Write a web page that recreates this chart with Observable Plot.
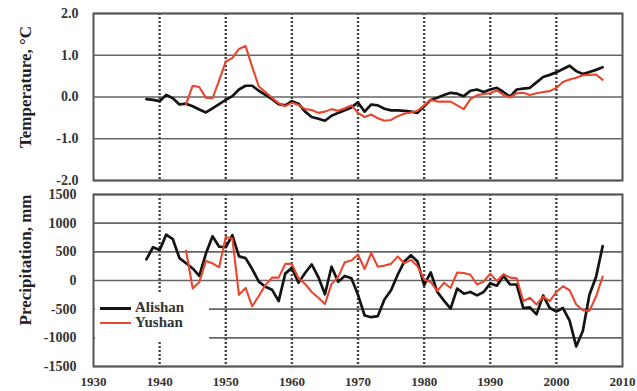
<!DOCTYPE html>
<html><head><meta charset="utf-8">
<script src="https://cdn.jsdelivr.net/npm/d3@7"></script>
<script src="https://cdn.jsdelivr.net/npm/@observablehq/plot@0.6"></script>
<style>
body{margin:0;background:#fff;}
#wrap{position:relative;width:637px;height:391px;font-family:"Liberation Serif","Times New Roman",serif;overflow:hidden;}
#top,#bot{position:absolute;left:0;}
#top{top:0}
#bot{top:186px}
.ytitle{position:absolute;font-weight:bold;font-size:17px;transform:translate(-50%,-50%) rotate(-90deg);white-space:nowrap;color:#222;line-height:1}
#legend{position:absolute;left:95px;top:293px;width:114px;height:47px;background:#fff;}
.lg{position:absolute;font-weight:bold;font-size:15px;color:#333;line-height:1;white-space:nowrap}
.sw{position:absolute;}
</style>
</head><body>
<div id="wrap">
  <div id="top"></div>
  <div id="bot"></div>
  <div class="ytitle" style="left:25px;top:87px">Temperature, °C</div>
  <div class="ytitle" style="left:25px;top:260px">Precipitation, mm</div>
  <div id="legend"></div>
</div>
<script>
const seriesNames = ["Alishan", "Yushan"];
const seriesColors = ["#141414", "#e8462d"];
const tempTicks = [-2, -1, 0, 1, 2];
const precipTicks = [-1500, -1000, -500, 0, 500, 1000, 1500];
const xTicks = [1930, 1940, 1950, 1960, 1970, 1980, 1990, 2000, 2010];
const decadeLines = [1940, 1950, 1960, 1970, 1980, 1990, 2000];

const alishanYears = d3.range(1938, 2008);
const yushanYears = d3.range(1944, 2008);

const alishanTemp = [
 -0.05,-0.07,-0.10,0.05,-0.03,-0.18,-0.16,-0.22,-0.30,-0.37,
 -0.27,-0.17,-0.07,0.02,0.18,0.27,0.27,0.15,0.05,-0.05,
 -0.17,-0.20,-0.10,-0.16,-0.35,-0.48,-0.52,-0.57,-0.45,-0.38,
 -0.32,-0.25,-0.13,-0.35,-0.18,-0.20,-0.28,-0.32,-0.32,-0.33,
 -0.35,-0.38,-0.22,-0.07,-0.02,0.05,0.10,0.08,0.02,0.15,
 0.18,0.12,0.18,0.22,0.12,0.01,0.18,0.20,0.22,0.35,
 0.48,0.53,0.59,0.67,0.75,0.62,0.55,0.60,0.65,0.71
];
const yushanTemp = [
 -0.17,0.27,0.24,-0.02,-0.03,0.40,0.85,0.93,1.15,1.22,
 0.72,0.25,0.12,-0.02,-0.15,-0.22,-0.14,-0.19,-0.29,-0.31,
 -0.38,-0.35,-0.29,-0.33,-0.27,-0.20,-0.38,-0.48,-0.42,-0.51,
 -0.57,-0.55,-0.46,-0.40,-0.37,-0.33,-0.20,-0.07,-0.11,-0.11,
 -0.11,-0.20,-0.29,-0.05,0.04,0.07,0.09,0.16,0.05,-0.01,
 0.09,0.10,0.05,0.09,0.12,0.14,0.22,0.36,0.42,0.46,
 0.52,0.53,0.54,0.41
];
const alishanPrecip = [
 370,580,530,800,720,390,300,210,80,470,
 770,590,580,790,420,390,200,-20,-110,-160,
 -360,120,220,-40,130,280,60,-240,240,-20,
 80,40,-250,-610,-640,-620,-330,-170,100,330,
 440,330,-80,140,-200,-350,-490,-140,-230,-200,
 -260,-200,-50,-90,80,-70,-70,-480,-470,-590,
 -260,-480,-540,-480,-700,-1150,-880,-250,60,600
];
const yushanPrecip = [
 520,-140,-30,340,300,230,760,730,-250,-130,
 -450,-270,-80,50,50,290,290,40,-60,-200,
 -300,-410,-60,60,320,350,450,200,480,240,
 260,290,420,300,360,250,20,-30,-180,-40,
 -130,140,130,100,-70,-20,120,-10,110,50,
 40,-360,-300,-420,-280,-360,-200,-100,-170,-420,
 -520,-530,-280,70
];

const rows = (years, vals, name) => years.map((y, i) => ({year: y, value: vals[i], series: name}));
const tA = rows(alishanYears, alishanTemp, seriesNames[0]);
const tY = rows(yushanYears, yushanTemp, seriesNames[1]);
const pA = rows(alishanYears, alishanPrecip, seriesNames[0]);
const pY = rows(yushanYears, yushanPrecip, seriesNames[1]);

const font = '"Liberation Serif","Times New Roman",serif';
const grid = "#666";
const dots = {stroke: "#444", strokeWidth: 2.4, strokeDasharray: "2,2"};

const topPlot = Plot.plot({
  width: 637, height: 186,
  marginLeft: 93, marginRight: 15, marginTop: 13, marginBottom: 6,
  style: {fontFamily: font, background: "transparent", overflow: "visible"},
  x: {domain: [1930, 2010], axis: null},
  y: {domain: [-2, 2]},
  marks: [
    Plot.ruleY(tempTicks, {y: d => d, stroke: grid, strokeWidth: 1.6}),
    Plot.ruleX(decadeLines, {x: d => d, ...dots}),
    Plot.line(tA, {x: "year", y: "value", stroke: seriesColors[0], strokeWidth: 2.7}),
    Plot.line(tY, {x: "year", y: "value", stroke: seriesColors[1], strokeWidth: 2.1}),
    Plot.frame({stroke: "#555", strokeWidth: 2}),
    Plot.axisY({ticks: tempTicks, tickFormat: d => d.toFixed(1), tickSize: 0, tickPadding: 15, label: null, fontSize: 14, fontWeight: "bold", fill: "#333"})
  ]
});
document.getElementById("top").appendChild(topPlot);

const botPlot = Plot.plot({
  width: 637, height: 205,
  marginLeft: 93, marginRight: 15, marginTop: 8, marginBottom: 25,
  style: {fontFamily: font, background: "transparent", overflow: "visible"},
  x: {domain: [1930, 2010]},
  y: {domain: [-1500, 1500]},
  marks: [
    Plot.ruleY(precipTicks, {y: d => d, stroke: grid, strokeWidth: 1.6}),
    Plot.ruleX(decadeLines, {x: d => d, ...dots}),
    Plot.line(pA, {x: "year", y: "value", stroke: seriesColors[0], strokeWidth: 2.7}),
    Plot.line(pY, {x: "year", y: "value", stroke: seriesColors[1], strokeWidth: 2.1}),
    Plot.frame({stroke: "#555", strokeWidth: 2}),
    Plot.axisY({ticks: precipTicks, tickFormat: d => String(d), tickSize: 0, tickPadding: 17, label: null, fontSize: 14, fontWeight: "bold", fill: "#333"}),
    Plot.axisX({ticks: xTicks, tickFormat: d => String(d), tickSize: 0, tickPadding: 10, label: null, fontSize: 13, fontWeight: "bold", fill: "#333"})
  ]
});
document.getElementById("bot").appendChild(botPlot);

// legend (inside plot area, white box)
const lg = document.getElementById("legend");
seriesNames.forEach((name, i) => {
  const cy = 15 + i * 15;
  const sw = document.createElement("div");
  sw.className = "sw";
  const th = i === 0 ? 3 : 2;
  sw.style.cssText = `left:5px;top:${cy - th/2}px;width:31px;height:${th}px;background:${seriesColors[i]}`;
  lg.appendChild(sw);
  const t = document.createElement("div");
  t.className = "lg";
  t.textContent = name;
  t.style.left = "40px";
  t.style.top = (cy - 8) + "px";
  lg.appendChild(t);
});
</script>
</body></html>
